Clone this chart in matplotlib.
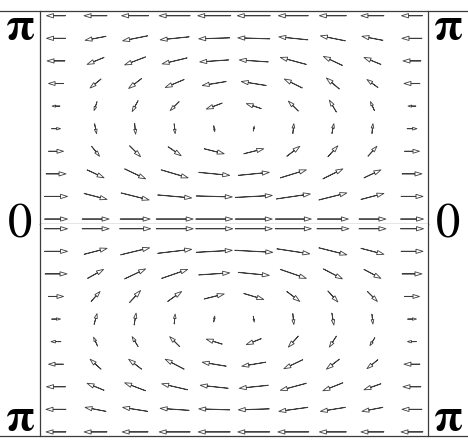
import numpy as np
import matplotlib.pyplot as plt
from matplotlib.lines import Line2D

# componentes del campo (filas de arriba a abajo)
u_sup=[[-19,-23,-27,-31,-33,-33,-30,-27,-23,-21],
       [-19,-21,-25,-29,-31,-32,-29,-25,-21,-20],
       [-18,-17,-21,-25,-29,-29,-26,-19,-17,-18],
       [-15,-11,-13,-19,-24,-25,-18,-13,-11,-16],
       [-8,-3,-6,-9,-16,-15,-10,-7,-4,-8],
       [9,2,1,1,1,1,1,2,1,10],
       [15,8,11,13,20,20,13,10,9,15],
       [20,17,21,27,31,31,26,20,17,20],
       [23,23,28,34,36,37,34,28,23,22],
       [23,27,30,37,37,37,36,31,27,23]]
v_sup=[[0,0,0,0,0,0,0,0,0,0],
       [0,-4,-5,-3,-1,1,3,5,4,0],
       [0,-7,-8,-6,-2,2,7,9,7,0],
       [0,-9,-10,-8,-4,4,9,11,8,0],
       [0,-9,-11,-9,-6,5,10,12,9,0],
       [0,-10,-11,-10,-6,5,10,10,10,0],
       [0,-10,-11,-9,-5,5,10,11,10,0],
       [0,-8,-10,-8,-3,3,8,10,8,0],
       [0,-6,-7,-3,-1,2,5,7,6,0],
       [0,0,0,0,0,0,0,0,0,0]]
u_inf=[[23,27,31,37,37,37,36,32,27,23],
       [23,23,29,34,36,38,33,28,23,22],
       [22,16,21,26,31,31,26,19,17,20],
       [15,9,11,14,20,20,13,10,10,15],
       [9,3,2,1,1,1,1,2,1,9],
       [-10,-4,-6,-10,-16,-15,-10,-7,-5,-9],
       [-15,-11,-13,-19,-24,-24,-19,-13,-11,-16],
       [-19,-17,-21,-26,-28,-29,-26,-20,-17,-18],
       [-20,-21,-25,-29,-31,-31,-29,-25,-21,-20],
       [-20,-23,-26,-31,-32,-32,-31,-27,-23,-22]]
v_inf=[[0,0,0,0,0,0,0,0,0,0],
       [0,6,7,4,2,-2,-5,-7,-6,0],
       [0,9,10,9,2,-3,-9,-10,-9,0],
       [0,10,12,10,5,-6,-10,-11,-10,0],
       [0,11,12,10,6,-6,-11,-12,-10,0],
       [0,9,10,10,5,-6,-11,-11,-8,0],
       [0,10,10,10,4,-4,-9,-10,-9,0],
       [0,7,8,6,3,-3,-7,-8,-6,0],
       [0,4,4,2,1,-1,-4,-4,-4,0],
       [0,0,0,0,0,0,0,0,0,0]]
etiquetas=['π','0','π']

gris='#3c3c3c'

def panel(ax,u,v,y_lim):
    u=np.array(u,dtype=float)
    v=np.array(v,dtype=float)
    n_f,n_c=u.shape
    X,Y=np.meshgrid(np.arange(n_c),np.arange(n_f)[::-1])
    ax.quiver(X,Y,u,v,angles='uv',scale_units='dots',scale=1,pivot='middle',
              units='dots',width=0.25,headlength=28,headaxislength=28,
              headwidth=17,minshaft=2.3,facecolor='white',edgecolors=gris,linewidths=0.6)
    ax.set_xlim(-0.405,n_c-1+0.405)
    ax.set_ylim(*y_lim)
    ax.set_xticks([])
    ax.set_yticks([])
    for s in ax.spines.values():
        s.set_color(gris)
        s.set_linewidth(0.9)
    ax.spines['top'].set_visible(False)

fig=plt.figure(figsize=(4.68,4.43),dpi=100)
H=443.0
izq,der=40/468,428/468
y_top,y_mid,y_bot=(H-11)/H,(H-224)/H,(H-436)/H
ax1=fig.add_axes([izq,y_mid,der-izq,y_top-y_mid])
ax2=fig.add_axes([izq,y_bot,der-izq,y_mid-y_bot])
panel(ax1,u_sup,v_sup,(-0.22,9.21))
panel(ax2,u_inf,v_inf,(-0.18,9.21))
ax2.spines['bottom'].set_visible(False)

for yy in (y_top,y_bot):
    fig.add_artist(Line2D([0,1],[yy,yy],color=gris,lw=0.9,transform=fig.transFigure))

bases=[39,238,430]
for xx in (20,448):
    for t,b in zip(etiquetas,bases):
        es_pi=t=='π'
        fig.text(xx/468,(H-b)/H,t,ha='center',va='baseline',fontsize=33 if es_pi else 35,
                 family='STIXGeneral',weight='bold' if es_pi else 'normal',color='black')

plt.savefig('out.png',dpi=100,facecolor='white')
